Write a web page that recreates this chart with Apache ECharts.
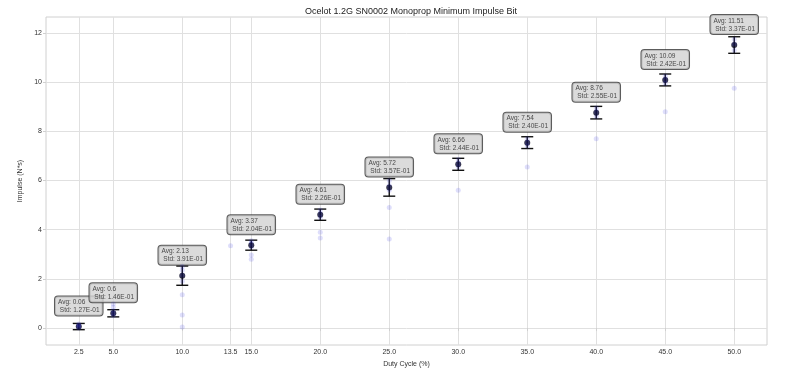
<!DOCTYPE html>
<html>
<head>
<meta charset="utf-8">
<title>Ocelot 1.2G SN0002 Monoprop Minimum Impulse Bit</title>
<script src="https://cdn.jsdelivr.net/npm/echarts@6/dist/echarts.min.js"></script>
<style>
  html, body { margin: 0; padding: 0; background: #fff; }
  #chart { width: 800px; height: 378px; }
</style>
</head>
<body>
<div id="chart"></div>
<script>
// duty cycles tested (%), with per-point mean / std of impulse
const dutyCycles = [2.5, 5.0, 10.0, 15.0, 20.0, 25.0, 30.0, 35.0, 40.0, 45.0, 50.0];
const avgImpulse = [0.06, 0.6, 2.13, 3.37, 4.61, 5.72, 6.66, 7.54, 8.76, 10.09, 11.51];
const stdImpulse = [0.127, 0.146, 0.391, 0.204, 0.228, 0.357, 0.244, 0.240, 0.255, 0.242, 0.337];
const stdText = ['1.27E-01', '1.46E-01', '3.91E-01', '2.04E-01', '2.26E-01', '3.57E-01',
  '2.44E-01', '2.40E-01', '2.55E-01', '2.42E-01', '3.37E-01'];

// individual firings (faint points)
const sampleDuty = [
  2.5, 2.5, 2.5, 2.5,
  5.0, 5.0, 5.0, 5.0, 5.0,
  10.0, 10.0, 10.0, 10.0, 10.0, 10.0, 10.0,
  13.5,
  15.0, 15.0, 15.0, 15.0, 15.0,
  20.0, 20.0, 20.0, 20.0, 20.0,
  25.0, 25.0, 25.0, 25.0, 25.0,
  30.0, 30.0, 30.0, 30.0,
  35.0, 35.0, 35.0, 35.0,
  40.0, 40.0, 40.0, 40.0,
  45.0, 45.0, 45.0, 45.0,
  50.0, 50.0, 50.0, 50.0
];
const sampleImpulse = [
  0.0, 0.06, 0.12, 0.16,
  0.5, 0.6, 0.7, 0.85, 0.98,
  0.04, 0.53, 1.35, 1.9, 2.15, 2.35, 2.5,
  3.35,
  2.8, 2.97, 3.3, 3.45, 3.55,
  3.66, 3.9, 4.5, 4.65, 4.8,
  3.62, 4.9, 5.6, 5.8, 6.0,
  5.6, 6.55, 6.7, 6.85,
  6.55, 7.4, 7.55, 7.7,
  7.7, 8.6, 8.8, 8.95,
  8.8, 9.95, 10.1, 10.25,
  9.75, 11.3, 11.55, 11.75
];

const xTicks = [2.5, 5.0, 10.0, 13.5, 15.0, 20.0, 25.0, 30.0, 35.0, 40.0, 45.0, 50.0];
const yTicks = [0, 2, 4, 6, 8, 10, 12];

const font = 'Liberation Sans, Arial, sans-serif';

const chart = echarts.init(document.getElementById('chart'));

function renderErrorBar(params, api) {
  const x = api.value(0);
  const lo = api.coord([x, api.value(1)]);
  const hi = api.coord([x, api.value(2)]);
  const hw = 6;
  const st = { stroke: '#111', lineWidth: 1.4 };
  return {
    type: 'group',
    children: [
      { type: 'line', shape: { x1: lo[0], y1: lo[1], x2: hi[0], y2: hi[1] }, style: st },
      { type: 'line', shape: { x1: lo[0] - hw, y1: lo[1], x2: lo[0] + hw, y2: lo[1] }, style: st },
      { type: 'line', shape: { x1: hi[0] - hw, y1: hi[1], x2: hi[0] + hw, y2: hi[1] }, style: st }
    ]
  };
}

const option = {
  animation: false,
  backgroundColor: '#fff',
  textStyle: { fontFamily: font },
  title: {
    text: 'Ocelot 1.2G SN0002 Monoprop Minimum Impulse Bit',
    left: 406,
    textAlign: 'center',
    top: 2,
    textStyle: { fontSize: 9, fontWeight: 'normal', color: '#222', fontFamily: font }
  },
  grid: {
    left: 46, right: 33, top: 17, bottom: 33,
    show: true, borderColor: '#d0d0d0', borderWidth: 1
  },
  xAxis: {
    type: 'value',
    min: 0.125,
    max: 52.375,
    name: 'Duty Cycle (%)',
    nameLocation: 'middle',
    nameGap: 15,
    nameTextStyle: { fontSize: 7, color: '#333' },
    axisLine: { show: false },
    axisTick: { show: true, length: 3, lineStyle: { color: '#d0d0d0' }, customValues: xTicks },
    axisLabel: {
      customValues: xTicks,
      fontSize: 7, color: '#333', margin: 4,
      formatter: v => v.toFixed(1)
    },
    splitLine: { show: true, lineStyle: { color: '#e0e0e0', width: 1 } }
  },
  yAxis: {
    type: 'value',
    min: -0.69,
    max: 12.65,
    name: 'Impulse (N*s)',
    nameLocation: 'middle',
    nameGap: 16,
    nameTextStyle: { fontSize: 7, color: '#333' },
    axisLine: { show: false },
    axisTick: { show: true, length: 3, lineStyle: { color: '#d0d0d0' }, customValues: yTicks },
    axisLabel: { customValues: yTicks, fontSize: 7, color: '#333', margin: 4 },
    splitLine: { show: true, lineStyle: { color: '#e0e0e0', width: 1 } }
  },
  series: [
    {
      type: 'custom',
      name: 'std',
      renderItem: renderErrorBar,
      encode: { x: 0, y: [1, 2] },
      z: 2,
      data: dutyCycles.map((d, i) => [d, avgImpulse[i] - stdImpulse[i], avgImpulse[i] + stdImpulse[i]])
    },
    {
      type: 'scatter',
      name: 'mean',
      symbol: 'circle',
      symbolSize: 6,
      z: 3,
      itemStyle: { color: '#05051a' },
      label: {
        show: true,
        position: 'top',
        distance: 8,
        backgroundColor: '#d2d2d2',
        borderColor: '#333',
        borderWidth: 1,
        borderRadius: 3,
        padding: [2, 3, 1, 3],
        formatter: p => '{t|Avg: ' + avgImpulse[p.dataIndex] + '}\n{t| Std: ' + stdText[p.dataIndex] + '}',
        rich: {
          t: { fontSize: 6.5, lineHeight: 8, color: '#222', align: 'left', fontFamily: font }
        }
      },
      data: dutyCycles.map((d, i) => [d, avgImpulse[i]])
    },
    {
      type: 'scatter',
      name: 'samples',
      symbol: 'circle',
      symbolSize: 5,
      z: 4,
      itemStyle: { color: 'rgba(50, 50, 230, 0.2)' },
      data: sampleDuty.map((d, i) => [d, sampleImpulse[i]])
    }
  ]
};

chart.setOption(option);
</script>
</body>
</html>
